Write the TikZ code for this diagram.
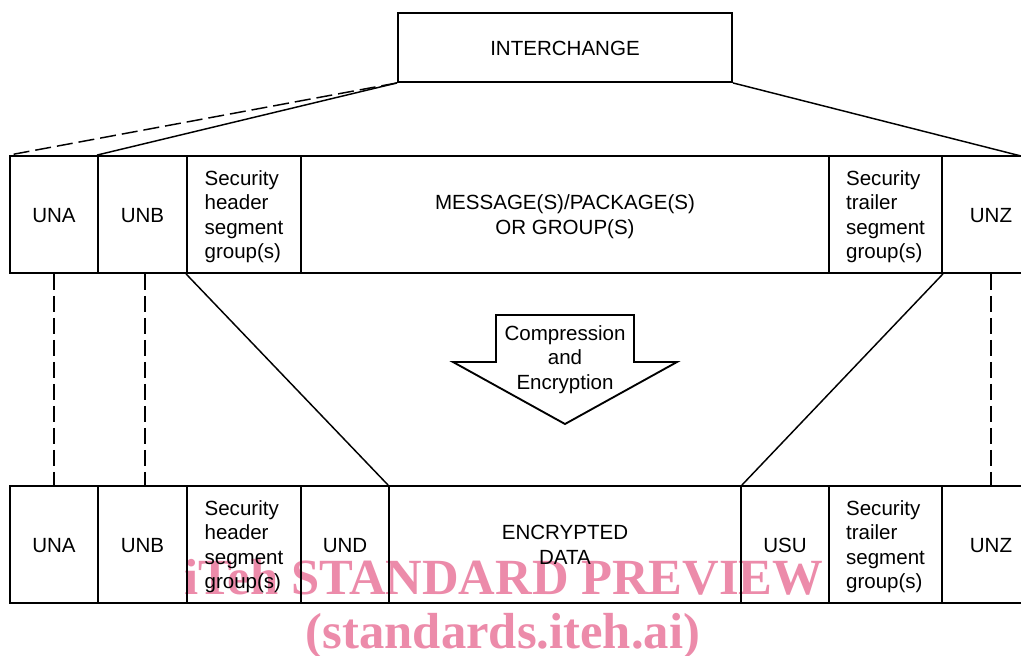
\documentclass[tikz,border=0pt]{standalone}
\usepackage{fontspec}
\setmainfont{Liberation Sans}
\newfontfamily\wmfont{Liberation Serif}
\definecolor{wmpink}{RGB}{236,139,170}
\newcommand{\mlc}[1]{\raisebox{-2pt}[\height][\depth]{\begin{tabular}{@{}c@{}}#1\end{tabular}}}
\newcommand{\mll}[1]{\raisebox{-2pt}[\height][\depth]{\begin{tabular}{@{}l@{}}#1\end{tabular}}}
\newcommand{\slc}[1]{\raisebox{-0.7pt}[\height][\depth]{#1}}
\begin{document}
\begin{tikzpicture}[x=0.75pt,y=-0.75pt,
  txt/.style={font=\fontsize{15.4pt}{18.4pt}\selectfont, align=center},
  cell/.style={txt, draw, line width=1.4pt, inner sep=0pt, minimum height=87.75pt},
  conn/.style={line width=1.1pt},
  dconn/.style={line width=1.1pt, dash pattern=on 12pt off 4.5pt},
  wm/.style={font=\wmfont\bfseries\fontsize{38pt}{40pt}\selectfont, text=wmpink, anchor=base, inner sep=0pt}]
\clip (0,0) rectangle (1021,656);
\fill[white] (0,0) rectangle (1021,656);

% watermark (beneath the drawing)
\node[wm] (wm1) at (504,594) {iTeh STANDARD PREVIEW};
\node[wm] (wm2) at (503,648) {(standards.iteh.ai)};

% top box
\node[cell, minimum width=250.5pt, minimum height=51.75pt] (inter) at (565,47.5) {\slc{INTERCHANGE}};

% row 1
\node[cell, minimum width=66pt] (una1) at (54,214.5) {\slc{UNA}};
\node[cell, minimum width=66.75pt] (unb1) at (142.5,214.5) {\slc{UNB}};
\node[cell, minimum width=85.5pt] (sh1) at (244,214.5) {\mll{Security\\header\\segment\\group(s)}};
\node[cell, minimum width=396pt] (msg) at (565,214.5) {\mlc{MESSAGE(S)/PACKAGE(S)\\OR GROUP(S)}};
\node[cell, minimum width=84.75pt] (st1) at (885.5,214.5) {\mll{Security\\trailer\\segment\\group(s)}};
\node[cell, minimum width=73.5pt] (unz1) at (991,214.5) {\slc{UNZ}};

% row 2
\node[cell, minimum width=66pt] (una2) at (54,544.5) {\slc{UNA}};
\node[cell, minimum width=66.75pt] (unb2) at (142.5,544.5) {\slc{UNB}};
\node[cell, minimum width=85.5pt] (sh2) at (244,544.5) {\mll{Security\\header\\segment\\group(s)}};
\node[cell, minimum width=66pt] (und) at (345,544.5) {\slc{UND}};
\node[cell, minimum width=264pt] (enc) at (565,544.5) {\mlc{ENCRYPTED\\DATA}};
\node[cell, minimum width=66pt] (usu) at (785,544.5) {\slc{USU}};
\node[cell, minimum width=84.75pt] (st2) at (885.5,544.5) {\mll{Security\\trailer\\segment\\group(s)}};
\node[cell, minimum width=73.5pt] (unz2) at (991,544.5) {\slc{UNZ}};

% fan-out from interchange
\coordinate (rend) at (1021,156);
\draw[dconn] (inter.south west) -- (una1.north west);
\draw[conn] (inter.south west) -- (unb1.north west);
\draw[conn] (inter.south east) -- (rend);

% links between rows
\draw[dconn] (una1.south) -- (una2.north);
\draw[dconn] ([xshift=1.9pt]unb1.south) -- ([xshift=1.9pt]unb2.north);
\draw[dconn] (unz1.south) -- (unz2.north);
\draw[conn] (sh1.south west) -- (enc.north west);
\draw[conn] (st1.south east) -- (enc.north east);

% compression arrow
\draw[line width=1.4pt, line join=miter] (496,315) -- (634,315) -- (634,362) -- (677,362) -- (565,424) -- (453,362) -- (496,362) -- cycle;
\node[txt, inner sep=0pt] (arrtxt) at (565,357) {\mlc{Compression\\and\\Encryption}};
\end{tikzpicture}
\end{document}
